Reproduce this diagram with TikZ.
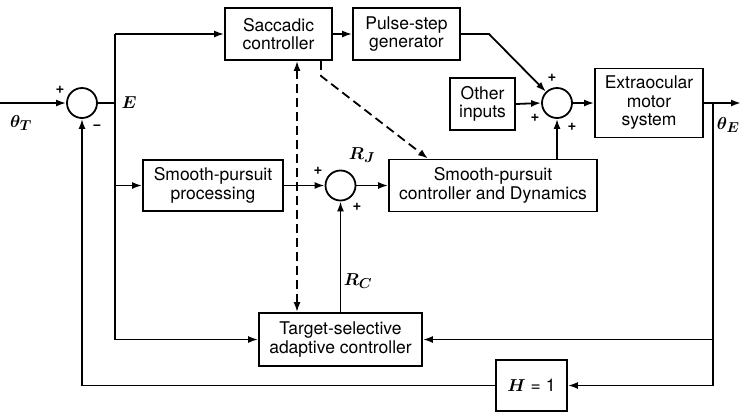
\documentclass[tikz,border=0pt]{standalone}
\usepackage{fontspec}
\setsansfont{TeX Gyre Heros}
\usetikzlibrary{arrows.meta,calc}
\begin{document}
\begin{tikzpicture}[x=1pt,y=-1pt,
  line width=1.8pt,
  >={Latex[length=10pt,width=7pt]},
  blk/.style={draw,inner sep=0pt,align=center,font=\sffamily\fontsize{17.5}{18.5}\selectfont},
  sumj/.style={draw,circle,minimum size=30pt,inner sep=0pt},
  sgn/.style={font=\sffamily\bfseries\fontsize{15}{15}\selectfont,inner sep=0pt},
  lbl/.style={font=\fontsize{19}{22}\selectfont\boldmath,inner sep=0pt}]
\useasboundingbox (0,0) rectangle (741,413);
% blocks
\node[blk,minimum width=107pt,minimum height=52pt] (sac) at (278.5,34) {Saccadic\\controller};
\node[blk,minimum width=107pt,minimum height=52pt] (psg) at (406.5,34) {Pulse-step\\generator};
\node[blk,minimum width=65pt,minimum height=52pt] (oth) at (482.5,104) {Other\\inputs};
\node[blk,minimum width=108pt,minimum height=69pt] (ext) at (649,103) {Extraocular\\motor\\system};
\node[blk,minimum width=140pt,minimum height=51pt] (spp) at (213,185.5) {Smooth-pursuit\\processing};
\node[blk,minimum width=208pt,minimum height=52pt] (spc) at (493,185.5) {Smooth-pursuit\\controller and Dynamics};
\node[blk,minimum width=163pt,minimum height=53pt] (tsa) at (340.5,339.5) {Target-selective\\adaptive controller};
\node[blk,minimum width=71pt,minimum height=51pt] (H) at (531.5,385.5) {{\fontsize{19}{20}\selectfont\boldmath$H$} = 1};
% summing junctions
\node[sumj] (j1) at (82,103) {};
\node[sumj] (j2) at (557,103) {};
\node[sumj] (j3) at (340.5,185.5) {};
% coordinates
\coordinate (in) at (0,103);
\coordinate (bt) at (115,34);
\coordinate (bb) at (115,339.5);
\coordinate (tap) at (713,103);
\coordinate (out) at (741,103);
\coordinate (bend) at (489,34);
% connectors
\draw[->] (in) -- (j1.west);
\draw (j1.east) -- (j1 -| bt);
\draw (bt) -- (bb);
\draw[->] (bt) -- (sac.west);
\draw[->] (bt |- spp.west) -- (spp.west);
\draw[->] (bb) -- (tsa.west);
\draw[->] (sac.east) -- (psg.west);
\draw[->] (psg.east) -- (bend) -- (j2);
\draw[->] (oth.east) -- (j2.west);
\draw[->] (j2.east) -- (ext.west);
\draw[->] (ext.east) -- (out);
\draw (tap) -- (tap |- H.east);
\draw[->] (tap |- tsa.east) -- (tsa.east);
\draw[->] (tap |- H.east) -- (H.east);
\draw[->] (H.west) -| (j1.south);
\draw[->] (spp.east) -- (j3.west);
\draw[->] (j3.east) -- (spc.west);
\draw[->] (tsa.north) -- (j3.south);
\draw[->] (j2 |- spc.north) -- (j2.south);
\draw[->,dashed,dash pattern=on 9pt off 5pt] ([xshift=-12pt]sac.south east) -- ++(0,15) -- ([xshift=-65pt]spc.north);
\draw[<->,dashed,dash pattern=on 9pt off 5pt] ([xshift=18.5pt]sac.south) -- ([xshift=18.5pt]sac.south |- tsa.north);
% signs
\node[sgn] (s1) at (60,90) {+};
\node[sgn] (s2) at (97,127) {\textminus};
\node[sgn] (s3) at (552,78) {+};
\node[sgn] (s4) at (535,118) {+};
\node[sgn] (s5) at (572,127) {+};
\node[sgn] (s6) at (318,171) {+};
\node[sgn] (s7) at (357,207) {+};
% labels
\node[lbl] (lT) at (21,123) {$\theta_T$};
\node[lbl,anchor=west] (lE) at (716,125) {$\theta_E$};
\node[lbl] (lEE) at (129,103) {$E$};
\node[lbl] (lRJ) at (362,155) {$R_J$};
\node[lbl] (lRC) at (358,281) {$R_C$};
\end{tikzpicture}
\end{document}
